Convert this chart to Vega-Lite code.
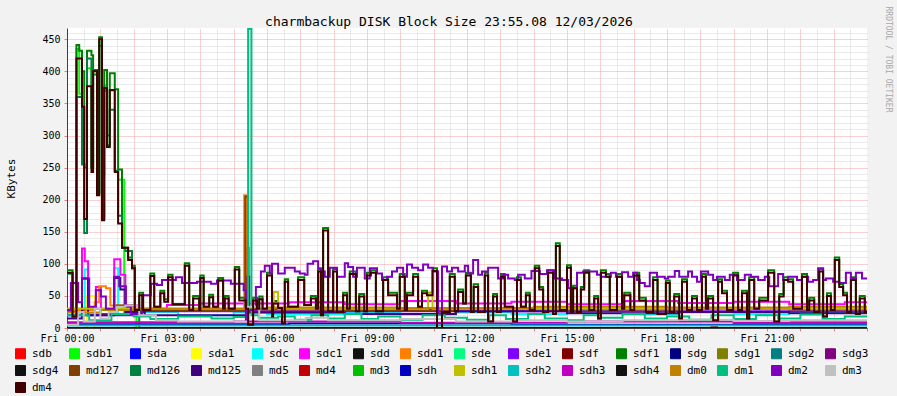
{
"$schema": "https://vega.github.io/schema/vega-lite/v6.json",
"width": 800,
"height": 300,
"autosize": {"type": "none"},
"padding": {"left": 67, "top": 28, "right": 30, "bottom": 68},
"background": "#f2f2f2",
"config": {"view": {"fill": "#ffffff", "stroke": null}, "font": "DejaVu Sans Mono"},
"title": {"text": "charmbackup DISK Block Size 23:55.08 12/03/2026", "font": "DejaVu Sans Mono", "fontSize": 13, "fontWeight": "normal", "color": "#000000", "anchor": "middle", "frame": "group", "dx": -18, "dy": 40, "offset": 4, "baseline": "bottom"},
"data": {"values": [
{"s":"sdb","t":0,"v":0},{"s":"sdb","t":1160,"v":3},{"s":"sdb","t":1170,"v":0},{"s":"sdb","t":1440,"v":0},
{"s":"sdb1","t":0,"v":85},{"s":"sdb1","t":10,"v":18},{"s":"sdb1","t":17,"v":435},{"s":"sdb1","t":22,"v":365},{"s":"sdb1","t":27,"v":340},{"s":"sdb1","t":31,"v":255},{"s":"sdb1","t":36,"v":405},{"s":"sdb1","t":44,"v":250},{"s":"sdb1","t":47,"v":400},{"s":"sdb1","t":54,"v":210},{"s":"sdb1","t":58,"v":445},{"s":"sdb1","t":63,"v":175},{"s":"sdb1","t":67,"v":378},{"s":"sdb1","t":72,"v":285},{"s":"sdb1","t":77,"v":370},{"s":"sdb1","t":86,"v":245},{"s":"sdb1","t":92,"v":231},{"s":"sdb1","t":103,"v":25},{"s":"sdb1","t":125,"v":0},{"s":"sdb1","t":1440,"v":0},
{"s":"sda","t":0,"v":0},{"s":"sda","t":1440,"v":0},
{"s":"sda1","t":0,"v":0},{"s":"sda1","t":36,"v":50},{"s":"sda1","t":50,"v":0},{"s":"sda1","t":1440,"v":0},
{"s":"sdc","t":0,"v":20},{"s":"sdc","t":32,"v":91},{"s":"sdc","t":38,"v":22},{"s":"sdc","t":85,"v":93},{"s":"sdc","t":92,"v":22},{"s":"sdc","t":140,"v":25},{"s":"sdc","t":200,"v":20},{"s":"sdc","t":300,"v":24},{"s":"sdc","t":360,"v":22},{"s":"sdc","t":500,"v":25},{"s":"sdc","t":600,"v":21},{"s":"sdc","t":700,"v":24},{"s":"sdc","t":800,"v":22},{"s":"sdc","t":900,"v":26},{"s":"sdc","t":1000,"v":21},{"s":"sdc","t":1100,"v":24},{"s":"sdc","t":1200,"v":22},{"s":"sdc","t":1300,"v":25},{"s":"sdc","t":1440,"v":23},
{"s":"sdc1","t":0,"v":30},{"s":"sdc1","t":27,"v":124},{"s":"sdc1","t":32,"v":104},{"s":"sdc1","t":38,"v":30},{"s":"sdc1","t":52,"v":64},{"s":"sdc1","t":61,"v":30},{"s":"sdc1","t":85,"v":107},{"s":"sdc1","t":96,"v":83},{"s":"sdc1","t":105,"v":35},{"s":"sdc1","t":130,"v":30},{"s":"sdc1","t":180,"v":36},{"s":"sdc1","t":240,"v":38},{"s":"sdc1","t":323,"v":125},{"s":"sdc1","t":327,"v":38},{"s":"sdc1","t":400,"v":40},{"s":"sdc1","t":500,"v":37},{"s":"sdc1","t":600,"v":42},{"s":"sdc1","t":700,"v":38},{"s":"sdc1","t":800,"v":41},{"s":"sdc1","t":900,"v":37},{"s":"sdc1","t":1000,"v":42},{"s":"sdc1","t":1100,"v":39},{"s":"sdc1","t":1200,"v":41},{"s":"sdc1","t":1300,"v":37},{"s":"sdc1","t":1400,"v":40},{"s":"sdc1","t":1440,"v":40},
{"s":"sdd","t":0,"v":0},{"s":"sdd","t":1440,"v":0},
{"s":"sdd1","t":0,"v":28},{"s":"sdd1","t":50,"v":40},{"s":"sdd1","t":58,"v":65},{"s":"sdd1","t":70,"v":62},{"s":"sdd1","t":78,"v":35},{"s":"sdd1","t":100,"v":30},{"s":"sdd1","t":319,"v":207},{"s":"sdd1","t":322,"v":30},{"s":"sdd1","t":1440,"v":30},
{"s":"sde","t":0,"v":0},{"s":"sde","t":1440,"v":0},
{"s":"sde1","t":0,"v":20},{"s":"sde1","t":120,"v":26},{"s":"sde1","t":1440,"v":26},
{"s":"sdf","t":0,"v":0},{"s":"sdf","t":1440,"v":0},
{"s":"sdf1","t":0,"v":90},{"s":"sdf1","t":10,"v":20},{"s":"sdf1","t":17,"v":441},{"s":"sdf1","t":22,"v":432},{"s":"sdf1","t":27,"v":400},{"s":"sdf1","t":31,"v":250},{"s":"sdf1","t":36,"v":432},{"s":"sdf1","t":44,"v":425},{"s":"sdf1","t":47,"v":402},{"s":"sdf1","t":54,"v":210},{"s":"sdf1","t":58,"v":453},{"s":"sdf1","t":63,"v":240},{"s":"sdf1","t":67,"v":402},{"s":"sdf1","t":72,"v":300},{"s":"sdf1","t":77,"v":397},{"s":"sdf1","t":86,"v":372},{"s":"sdf1","t":92,"v":247},{"s":"sdf1","t":99,"v":125},{"s":"sdf1","t":110,"v":110},{"s":"sdf1","t":117,"v":97},{"s":"sdf1","t":122,"v":28},{"s":"sdf1","t":130,"v":55},{"s":"sdf1","t":137,"v":28},{"s":"sdf1","t":150,"v":85},{"s":"sdf1","t":157,"v":33},{"s":"sdf1","t":168,"v":58},{"s":"sdf1","t":175,"v":45},{"s":"sdf1","t":182,"v":83},{"s":"sdf1","t":190,"v":37},{"s":"sdf1","t":212,"v":101},{"s":"sdf1","t":220,"v":28},{"s":"sdf1","t":227,"v":50},{"s":"sdf1","t":238,"v":28},{"s":"sdf1","t":240,"v":82},{"s":"sdf1","t":246,"v":33},{"s":"sdf1","t":256,"v":52},{"s":"sdf1","t":263,"v":33},{"s":"sdf1","t":272,"v":78},{"s":"sdf1","t":281,"v":30},{"s":"sdf1","t":284,"v":50},{"s":"sdf1","t":291,"v":30},{"s":"sdf1","t":302,"v":95},{"s":"sdf1","t":310,"v":47},{"s":"sdf1","t":322,"v":30},{"s":"sdf1","t":326,"v":5},{"s":"sdf1","t":335,"v":47},{"s":"sdf1","t":342,"v":30},{"s":"sdf1","t":346,"v":49},{"s":"sdf1","t":352,"v":30},{"s":"sdf1","t":360,"v":86},{"s":"sdf1","t":369,"v":18},{"s":"sdf1","t":371,"v":42},{"s":"sdf1","t":380,"v":31},{"s":"sdf1","t":387,"v":7},{"s":"sdf1","t":392,"v":76},{"s":"sdf1","t":398,"v":33},{"s":"sdf1","t":416,"v":79},{"s":"sdf1","t":427,"v":36},{"s":"sdf1","t":439,"v":50},{"s":"sdf1","t":448,"v":30},{"s":"sdf1","t":452,"v":92},{"s":"sdf1","t":457,"v":20},{"s":"sdf1","t":461,"v":156},{"s":"sdf1","t":470,"v":26},{"s":"sdf1","t":479,"v":92},{"s":"sdf1","t":486,"v":25},{"s":"sdf1","t":497,"v":55},{"s":"sdf1","t":504,"v":30},{"s":"sdf1","t":509,"v":88},{"s":"sdf1","t":520,"v":26},{"s":"sdf1","t":526,"v":53},{"s":"sdf1","t":535,"v":26},{"s":"sdf1","t":540,"v":86},{"s":"sdf1","t":547,"v":90},{"s":"sdf1","t":556,"v":26},{"s":"sdf1","t":569,"v":79},{"s":"sdf1","t":578,"v":55},{"s":"sdf1","t":594,"v":30},{"s":"sdf1","t":599,"v":84},{"s":"sdf1","t":608,"v":28},{"s":"sdf1","t":612,"v":55},{"s":"sdf1","t":623,"v":84},{"s":"sdf1","t":632,"v":33},{"s":"sdf1","t":639,"v":58},{"s":"sdf1","t":648,"v":55},{"s":"sdf1","t":658,"v":93},{"s":"sdf1","t":666,"v":0},{"s":"sdf1","t":675,"v":25},{"s":"sdf1","t":689,"v":84},{"s":"sdf1","t":698,"v":26},{"s":"sdf1","t":704,"v":60},{"s":"sdf1","t":713,"v":38},{"s":"sdf1","t":718,"v":86},{"s":"sdf1","t":727,"v":25},{"s":"sdf1","t":732,"v":68},{"s":"sdf1","t":740,"v":25},{"s":"sdf1","t":752,"v":86},{"s":"sdf1","t":758,"v":10},{"s":"sdf1","t":767,"v":53},{"s":"sdf1","t":774,"v":25},{"s":"sdf1","t":781,"v":84},{"s":"sdf1","t":788,"v":33},{"s":"sdf1","t":803,"v":10},{"s":"sdf1","t":810,"v":79},{"s":"sdf1","t":817,"v":33},{"s":"sdf1","t":826,"v":55},{"s":"sdf1","t":833,"v":28},{"s":"sdf1","t":842,"v":97},{"s":"sdf1","t":850,"v":64},{"s":"sdf1","t":857,"v":25},{"s":"sdf1","t":866,"v":90},{"s":"sdf1","t":875,"v":22},{"s":"sdf1","t":880,"v":132},{"s":"sdf1","t":887,"v":28},{"s":"sdf1","t":900,"v":98},{"s":"sdf1","t":907,"v":25},{"s":"sdf1","t":911,"v":66},{"s":"sdf1","t":918,"v":25},{"s":"sdf1","t":925,"v":64},{"s":"sdf1","t":931,"v":90},{"s":"sdf1","t":940,"v":28},{"s":"sdf1","t":949,"v":50},{"s":"sdf1","t":956,"v":15},{"s":"sdf1","t":961,"v":90},{"s":"sdf1","t":970,"v":84},{"s":"sdf1","t":977,"v":28},{"s":"sdf1","t":990,"v":84},{"s":"sdf1","t":999,"v":30},{"s":"sdf1","t":1003,"v":55},{"s":"sdf1","t":1014,"v":28},{"s":"sdf1","t":1021,"v":86},{"s":"sdf1","t":1030,"v":47},{"s":"sdf1","t":1042,"v":25},{"s":"sdf1","t":1055,"v":79},{"s":"sdf1","t":1063,"v":22},{"s":"sdf1","t":1078,"v":74},{"s":"sdf1","t":1085,"v":25},{"s":"sdf1","t":1093,"v":53},{"s":"sdf1","t":1102,"v":15},{"s":"sdf1","t":1107,"v":76},{"s":"sdf1","t":1116,"v":28},{"s":"sdf1","t":1125,"v":50},{"s":"sdf1","t":1134,"v":28},{"s":"sdf1","t":1143,"v":84},{"s":"sdf1","t":1150,"v":30},{"s":"sdf1","t":1154,"v":50},{"s":"sdf1","t":1163,"v":12},{"s":"sdf1","t":1172,"v":76},{"s":"sdf1","t":1179,"v":58},{"s":"sdf1","t":1188,"v":28},{"s":"sdf1","t":1199,"v":86},{"s":"sdf1","t":1208,"v":28},{"s":"sdf1","t":1215,"v":58},{"s":"sdf1","t":1224,"v":15},{"s":"sdf1","t":1228,"v":79},{"s":"sdf1","t":1237,"v":30},{"s":"sdf1","t":1246,"v":47},{"s":"sdf1","t":1262,"v":90},{"s":"sdf1","t":1273,"v":10},{"s":"sdf1","t":1282,"v":53},{"s":"sdf1","t":1290,"v":79},{"s":"sdf1","t":1298,"v":76},{"s":"sdf1","t":1307,"v":30},{"s":"sdf1","t":1323,"v":84},{"s":"sdf1","t":1332,"v":28},{"s":"sdf1","t":1336,"v":47},{"s":"sdf1","t":1345,"v":25},{"s":"sdf1","t":1354,"v":92},{"s":"sdf1","t":1361,"v":18},{"s":"sdf1","t":1368,"v":54},{"s":"sdf1","t":1375,"v":28},{"s":"sdf1","t":1382,"v":110},{"s":"sdf1","t":1390,"v":68},{"s":"sdf1","t":1397,"v":55},{"s":"sdf1","t":1404,"v":25},{"s":"sdf1","t":1411,"v":79},{"s":"sdf1","t":1420,"v":22},{"s":"sdf1","t":1427,"v":50},{"s":"sdf1","t":1436,"v":25},{"s":"sdf1","t":1440,"v":25},
{"s":"sdg","t":0,"v":0},{"s":"sdg","t":1440,"v":0},
{"s":"sdg1","t":0,"v":0},{"s":"sdg1","t":1440,"v":0},
{"s":"sdg2","t":0,"v":0},{"s":"sdg2","t":1440,"v":0},
{"s":"sdg3","t":0,"v":0},{"s":"sdg3","t":1440,"v":0},
{"s":"sdg4","t":0,"v":0},{"s":"sdg4","t":1440,"v":0},
{"s":"md127","t":0,"v":25},{"s":"md127","t":30,"v":30},{"s":"md127","t":60,"v":22},{"s":"md127","t":90,"v":35},{"s":"md127","t":120,"v":28},{"s":"md127","t":200,"v":27},{"s":"md127","t":321,"v":205},{"s":"md127","t":326,"v":29},{"s":"md127","t":500,"v":28},{"s":"md127","t":700,"v":30},{"s":"md127","t":900,"v":29},{"s":"md127","t":1100,"v":30},{"s":"md127","t":1300,"v":29},{"s":"md127","t":1440,"v":29},
{"s":"md126","t":0,"v":85},{"s":"md126","t":10,"v":18},{"s":"md126","t":17,"v":360},{"s":"md126","t":27,"v":255},{"s":"md126","t":31,"v":148},{"s":"md126","t":36,"v":420},{"s":"md126","t":44,"v":250},{"s":"md126","t":47,"v":395},{"s":"md126","t":54,"v":210},{"s":"md126","t":58,"v":440},{"s":"md126","t":63,"v":170},{"s":"md126","t":67,"v":370},{"s":"md126","t":72,"v":285},{"s":"md126","t":77,"v":340},{"s":"md126","t":86,"v":245},{"s":"md126","t":92,"v":175},{"s":"md126","t":99,"v":125},{"s":"md126","t":105,"v":120},{"s":"md126","t":117,"v":93},{"s":"md126","t":122,"v":28},{"s":"md126","t":130,"v":0},{"s":"md126","t":1440,"v":0},
{"s":"md125","t":0,"v":15},{"s":"md125","t":27,"v":77},{"s":"md125","t":38,"v":20},{"s":"md125","t":85,"v":78},{"s":"md125","t":96,"v":60},{"s":"md125","t":105,"v":25},{"s":"md125","t":140,"v":20},{"s":"md125","t":325,"v":80},{"s":"md125","t":328,"v":24},{"s":"md125","t":500,"v":22},{"s":"md125","t":700,"v":26},{"s":"md125","t":900,"v":23},{"s":"md125","t":1100,"v":25},{"s":"md125","t":1300,"v":23},{"s":"md125","t":1440,"v":24},
{"s":"md5","t":0,"v":0},{"s":"md5","t":1440,"v":0},
{"s":"md4","t":0,"v":0},{"s":"md4","t":1440,"v":0},
{"s":"md3","t":0,"v":0},{"s":"md3","t":1440,"v":0},
{"s":"sdh","t":0,"v":6},{"s":"sdh","t":400,"v":7},{"s":"sdh","t":800,"v":5},{"s":"sdh","t":1200,"v":6},{"s":"sdh","t":1440,"v":6},
{"s":"sdh1","t":0,"v":30},{"s":"sdh1","t":372,"v":56},{"s":"sdh1","t":380,"v":30},{"s":"sdh1","t":650,"v":54},{"s":"sdh1","t":658,"v":30},{"s":"sdh1","t":1440,"v":30},
{"s":"sdh2","t":0,"v":4},{"s":"sdh2","t":1440,"v":4},
{"s":"sdh3","t":0,"v":9},{"s":"sdh3","t":300,"v":10},{"s":"sdh3","t":600,"v":8},{"s":"sdh3","t":900,"v":10},{"s":"sdh3","t":1200,"v":9},{"s":"sdh3","t":1440,"v":9},
{"s":"sdh4","t":0,"v":0},{"s":"sdh4","t":1440,"v":0},
{"s":"dm0","t":0,"v":24},{"s":"dm0","t":60,"v":28},{"s":"dm0","t":120,"v":30},{"s":"dm0","t":360,"v":32},{"s":"dm0","t":600,"v":31},{"s":"dm0","t":840,"v":33},{"s":"dm0","t":1080,"v":32},{"s":"dm0","t":1300,"v":33},{"s":"dm0","t":1440,"v":33},
{"s":"dm1","t":0,"v":20},{"s":"dm1","t":40,"v":12},{"s":"dm1","t":80,"v":22},{"s":"dm1","t":120,"v":18},{"s":"dm1","t":150,"v":14},{"s":"dm1","t":200,"v":18},{"s":"dm1","t":260,"v":15},{"s":"dm1","t":300,"v":17},{"s":"dm1","t":326,"v":466},{"s":"dm1","t":332,"v":20},{"s":"dm1","t":345,"v":16},{"s":"dm1","t":380,"v":18},{"s":"dm1","t":410,"v":13},{"s":"dm1","t":440,"v":20},{"s":"dm1","t":470,"v":15},{"s":"dm1","t":500,"v":22},{"s":"dm1","t":530,"v":14},{"s":"dm1","t":560,"v":18},{"s":"dm1","t":600,"v":13},{"s":"dm1","t":640,"v":20},{"s":"dm1","t":680,"v":16},{"s":"dm1","t":720,"v":13},{"s":"dm1","t":760,"v":20},{"s":"dm1","t":790,"v":14},{"s":"dm1","t":830,"v":22},{"s":"dm1","t":860,"v":15},{"s":"dm1","t":900,"v":12},{"s":"dm1","t":930,"v":20},{"s":"dm1","t":960,"v":16},{"s":"dm1","t":1000,"v":22},{"s":"dm1","t":1040,"v":15},{"s":"dm1","t":1080,"v":18},{"s":"dm1","t":1120,"v":13},{"s":"dm1","t":1160,"v":20},{"s":"dm1","t":1200,"v":14},{"s":"dm1","t":1240,"v":20},{"s":"dm1","t":1280,"v":15},{"s":"dm1","t":1320,"v":21},{"s":"dm1","t":1360,"v":14},{"s":"dm1","t":1400,"v":18},{"s":"dm1","t":1440,"v":18},
{"s":"dm2","t":0,"v":28},{"s":"dm2","t":7,"v":70},{"s":"dm2","t":20,"v":40},{"s":"dm2","t":27,"v":77},{"s":"dm2","t":40,"v":33},{"s":"dm2","t":52,"v":59},{"s":"dm2","t":61,"v":49},{"s":"dm2","t":70,"v":30},{"s":"dm2","t":85,"v":80},{"s":"dm2","t":94,"v":65},{"s":"dm2","t":106,"v":33},{"s":"dm2","t":115,"v":22},{"s":"dm2","t":135,"v":51},{"s":"dm2","t":151,"v":69},{"s":"dm2","t":162,"v":67},{"s":"dm2","t":171,"v":75},{"s":"dm2","t":196,"v":79},{"s":"dm2","t":207,"v":70},{"s":"dm2","t":234,"v":72},{"s":"dm2","t":259,"v":69},{"s":"dm2","t":270,"v":74},{"s":"dm2","t":295,"v":69},{"s":"dm2","t":318,"v":59},{"s":"dm2","t":322,"v":12},{"s":"dm2","t":326,"v":28},{"s":"dm2","t":340,"v":64},{"s":"dm2","t":349,"v":88},{"s":"dm2","t":356,"v":97},{"s":"dm2","t":365,"v":85},{"s":"dm2","t":369,"v":100},{"s":"dm2","t":380,"v":85},{"s":"dm2","t":392,"v":94},{"s":"dm2","t":410,"v":88},{"s":"dm2","t":419,"v":85},{"s":"dm2","t":428,"v":83},{"s":"dm2","t":433,"v":100},{"s":"dm2","t":443,"v":104},{"s":"dm2","t":452,"v":93},{"s":"dm2","t":457,"v":88},{"s":"dm2","t":464,"v":80},{"s":"dm2","t":473,"v":94},{"s":"dm2","t":486,"v":80},{"s":"dm2","t":500,"v":101},{"s":"dm2","t":506,"v":95},{"s":"dm2","t":515,"v":80},{"s":"dm2","t":522,"v":94},{"s":"dm2","t":536,"v":77},{"s":"dm2","t":545,"v":93},{"s":"dm2","t":558,"v":85},{"s":"dm2","t":567,"v":75},{"s":"dm2","t":576,"v":80},{"s":"dm2","t":585,"v":88},{"s":"dm2","t":594,"v":94},{"s":"dm2","t":605,"v":80},{"s":"dm2","t":612,"v":99},{"s":"dm2","t":621,"v":94},{"s":"dm2","t":632,"v":90},{"s":"dm2","t":641,"v":99},{"s":"dm2","t":650,"v":94},{"s":"dm2","t":659,"v":88},{"s":"dm2","t":668,"v":23},{"s":"dm2","t":675,"v":96},{"s":"dm2","t":684,"v":88},{"s":"dm2","t":693,"v":94},{"s":"dm2","t":704,"v":88},{"s":"dm2","t":716,"v":97},{"s":"dm2","t":722,"v":85},{"s":"dm2","t":731,"v":106},{"s":"dm2","t":740,"v":83},{"s":"dm2","t":747,"v":88},{"s":"dm2","t":758,"v":94},{"s":"dm2","t":776,"v":77},{"s":"dm2","t":785,"v":83},{"s":"dm2","t":794,"v":77},{"s":"dm2","t":806,"v":75},{"s":"dm2","t":812,"v":83},{"s":"dm2","t":824,"v":77},{"s":"dm2","t":836,"v":89},{"s":"dm2","t":851,"v":84},{"s":"dm2","t":864,"v":90},{"s":"dm2","t":878,"v":77},{"s":"dm2","t":891,"v":75},{"s":"dm2","t":902,"v":62},{"s":"dm2","t":918,"v":86},{"s":"dm2","t":929,"v":88},{"s":"dm2","t":954,"v":83},{"s":"dm2","t":961,"v":80},{"s":"dm2","t":979,"v":86},{"s":"dm2","t":988,"v":80},{"s":"dm2","t":999,"v":87},{"s":"dm2","t":1010,"v":80},{"s":"dm2","t":1019,"v":86},{"s":"dm2","t":1026,"v":75},{"s":"dm2","t":1031,"v":70},{"s":"dm2","t":1040,"v":65},{"s":"dm2","t":1049,"v":86},{"s":"dm2","t":1062,"v":80},{"s":"dm2","t":1076,"v":77},{"s":"dm2","t":1082,"v":80},{"s":"dm2","t":1094,"v":89},{"s":"dm2","t":1102,"v":80},{"s":"dm2","t":1118,"v":88},{"s":"dm2","t":1125,"v":80},{"s":"dm2","t":1134,"v":72},{"s":"dm2","t":1141,"v":88},{"s":"dm2","t":1154,"v":83},{"s":"dm2","t":1163,"v":75},{"s":"dm2","t":1170,"v":80},{"s":"dm2","t":1184,"v":75},{"s":"dm2","t":1193,"v":83},{"s":"dm2","t":1206,"v":75},{"s":"dm2","t":1220,"v":83},{"s":"dm2","t":1231,"v":80},{"s":"dm2","t":1244,"v":75},{"s":"dm2","t":1256,"v":80},{"s":"dm2","t":1264,"v":65},{"s":"dm2","t":1280,"v":84},{"s":"dm2","t":1289,"v":75},{"s":"dm2","t":1298,"v":80},{"s":"dm2","t":1314,"v":75},{"s":"dm2","t":1323,"v":80},{"s":"dm2","t":1334,"v":72},{"s":"dm2","t":1343,"v":75},{"s":"dm2","t":1352,"v":93},{"s":"dm2","t":1361,"v":75},{"s":"dm2","t":1366,"v":77},{"s":"dm2","t":1379,"v":72},{"s":"dm2","t":1390,"v":70},{"s":"dm2","t":1402,"v":86},{"s":"dm2","t":1411,"v":77},{"s":"dm2","t":1420,"v":86},{"s":"dm2","t":1431,"v":77},{"s":"dm2","t":1440,"v":77},
{"s":"dm3","t":0,"v":5},{"s":"dm3","t":20,"v":25},{"s":"dm3","t":30,"v":10},{"s":"dm3","t":50,"v":30},{"s":"dm3","t":60,"v":15},{"s":"dm3","t":75,"v":25},{"s":"dm3","t":90,"v":33},{"s":"dm3","t":105,"v":35},{"s":"dm3","t":130,"v":20},{"s":"dm3","t":160,"v":12},{"s":"dm3","t":200,"v":10},{"s":"dm3","t":326,"v":33},{"s":"dm3","t":346,"v":12},{"s":"dm3","t":430,"v":16},{"s":"dm3","t":470,"v":12},{"s":"dm3","t":600,"v":14},{"s":"dm3","t":700,"v":10},{"s":"dm3","t":800,"v":12},{"s":"dm3","t":900,"v":10},{"s":"dm3","t":1000,"v":12},{"s":"dm3","t":1100,"v":13},{"s":"dm3","t":1200,"v":11},{"s":"dm3","t":1300,"v":12},{"s":"dm3","t":1440,"v":12},
{"s":"dm4","t":0,"v":86},{"s":"dm4","t":10,"v":18},{"s":"dm4","t":17,"v":420},{"s":"dm4","t":27,"v":345},{"s":"dm4","t":31,"v":170},{"s":"dm4","t":36,"v":377},{"s":"dm4","t":44,"v":243},{"s":"dm4","t":47,"v":400},{"s":"dm4","t":54,"v":207},{"s":"dm4","t":58,"v":450},{"s":"dm4","t":63,"v":168},{"s":"dm4","t":67,"v":374},{"s":"dm4","t":72,"v":282},{"s":"dm4","t":77,"v":371},{"s":"dm4","t":86,"v":243},{"s":"dm4","t":92,"v":163},{"s":"dm4","t":99,"v":125},{"s":"dm4","t":110,"v":106},{"s":"dm4","t":117,"v":93},{"s":"dm4","t":122,"v":28},{"s":"dm4","t":130,"v":51},{"s":"dm4","t":137,"v":28},{"s":"dm4","t":150,"v":81},{"s":"dm4","t":157,"v":33},{"s":"dm4","t":168,"v":54},{"s":"dm4","t":175,"v":41},{"s":"dm4","t":182,"v":79},{"s":"dm4","t":190,"v":37},{"s":"dm4","t":212,"v":97},{"s":"dm4","t":220,"v":28},{"s":"dm4","t":227,"v":46},{"s":"dm4","t":238,"v":28},{"s":"dm4","t":240,"v":78},{"s":"dm4","t":246,"v":33},{"s":"dm4","t":256,"v":48},{"s":"dm4","t":263,"v":33},{"s":"dm4","t":272,"v":74},{"s":"dm4","t":281,"v":30},{"s":"dm4","t":284,"v":46},{"s":"dm4","t":291,"v":30},{"s":"dm4","t":302,"v":91},{"s":"dm4","t":310,"v":43},{"s":"dm4","t":322,"v":30},{"s":"dm4","t":326,"v":5},{"s":"dm4","t":335,"v":43},{"s":"dm4","t":342,"v":30},{"s":"dm4","t":346,"v":45},{"s":"dm4","t":352,"v":30},{"s":"dm4","t":360,"v":82},{"s":"dm4","t":369,"v":18},{"s":"dm4","t":371,"v":38},{"s":"dm4","t":380,"v":31},{"s":"dm4","t":387,"v":7},{"s":"dm4","t":392,"v":72},{"s":"dm4","t":398,"v":33},{"s":"dm4","t":416,"v":75},{"s":"dm4","t":427,"v":36},{"s":"dm4","t":439,"v":46},{"s":"dm4","t":448,"v":30},{"s":"dm4","t":452,"v":88},{"s":"dm4","t":457,"v":20},{"s":"dm4","t":461,"v":152},{"s":"dm4","t":470,"v":26},{"s":"dm4","t":479,"v":88},{"s":"dm4","t":486,"v":25},{"s":"dm4","t":497,"v":51},{"s":"dm4","t":504,"v":30},{"s":"dm4","t":509,"v":84},{"s":"dm4","t":520,"v":26},{"s":"dm4","t":526,"v":49},{"s":"dm4","t":535,"v":26},{"s":"dm4","t":540,"v":82},{"s":"dm4","t":547,"v":86},{"s":"dm4","t":556,"v":26},{"s":"dm4","t":569,"v":75},{"s":"dm4","t":578,"v":51},{"s":"dm4","t":594,"v":30},{"s":"dm4","t":599,"v":80},{"s":"dm4","t":608,"v":28},{"s":"dm4","t":612,"v":51},{"s":"dm4","t":623,"v":80},{"s":"dm4","t":632,"v":33},{"s":"dm4","t":639,"v":54},{"s":"dm4","t":648,"v":51},{"s":"dm4","t":658,"v":89},{"s":"dm4","t":666,"v":0},{"s":"dm4","t":675,"v":25},{"s":"dm4","t":689,"v":80},{"s":"dm4","t":698,"v":26},{"s":"dm4","t":704,"v":56},{"s":"dm4","t":713,"v":38},{"s":"dm4","t":718,"v":82},{"s":"dm4","t":727,"v":25},{"s":"dm4","t":732,"v":64},{"s":"dm4","t":740,"v":25},{"s":"dm4","t":752,"v":82},{"s":"dm4","t":758,"v":10},{"s":"dm4","t":767,"v":49},{"s":"dm4","t":774,"v":25},{"s":"dm4","t":781,"v":80},{"s":"dm4","t":788,"v":33},{"s":"dm4","t":803,"v":10},{"s":"dm4","t":810,"v":75},{"s":"dm4","t":817,"v":33},{"s":"dm4","t":826,"v":51},{"s":"dm4","t":833,"v":28},{"s":"dm4","t":842,"v":93},{"s":"dm4","t":850,"v":60},{"s":"dm4","t":857,"v":25},{"s":"dm4","t":866,"v":86},{"s":"dm4","t":875,"v":22},{"s":"dm4","t":880,"v":128},{"s":"dm4","t":887,"v":28},{"s":"dm4","t":900,"v":94},{"s":"dm4","t":907,"v":25},{"s":"dm4","t":911,"v":62},{"s":"dm4","t":918,"v":25},{"s":"dm4","t":925,"v":60},{"s":"dm4","t":931,"v":86},{"s":"dm4","t":940,"v":28},{"s":"dm4","t":949,"v":46},{"s":"dm4","t":956,"v":15},{"s":"dm4","t":961,"v":86},{"s":"dm4","t":970,"v":80},{"s":"dm4","t":977,"v":28},{"s":"dm4","t":990,"v":80},{"s":"dm4","t":999,"v":30},{"s":"dm4","t":1003,"v":51},{"s":"dm4","t":1014,"v":28},{"s":"dm4","t":1021,"v":82},{"s":"dm4","t":1030,"v":43},{"s":"dm4","t":1042,"v":25},{"s":"dm4","t":1055,"v":75},{"s":"dm4","t":1063,"v":22},{"s":"dm4","t":1078,"v":70},{"s":"dm4","t":1085,"v":25},{"s":"dm4","t":1093,"v":49},{"s":"dm4","t":1102,"v":15},{"s":"dm4","t":1107,"v":72},{"s":"dm4","t":1116,"v":28},{"s":"dm4","t":1125,"v":46},{"s":"dm4","t":1134,"v":28},{"s":"dm4","t":1143,"v":80},{"s":"dm4","t":1150,"v":30},{"s":"dm4","t":1154,"v":46},{"s":"dm4","t":1163,"v":12},{"s":"dm4","t":1172,"v":72},{"s":"dm4","t":1179,"v":54},{"s":"dm4","t":1188,"v":28},{"s":"dm4","t":1199,"v":82},{"s":"dm4","t":1208,"v":28},{"s":"dm4","t":1215,"v":54},{"s":"dm4","t":1224,"v":15},{"s":"dm4","t":1228,"v":75},{"s":"dm4","t":1237,"v":30},{"s":"dm4","t":1246,"v":43},{"s":"dm4","t":1262,"v":86},{"s":"dm4","t":1273,"v":10},{"s":"dm4","t":1282,"v":49},{"s":"dm4","t":1290,"v":75},{"s":"dm4","t":1298,"v":72},{"s":"dm4","t":1307,"v":30},{"s":"dm4","t":1323,"v":80},{"s":"dm4","t":1332,"v":28},{"s":"dm4","t":1336,"v":43},{"s":"dm4","t":1345,"v":25},{"s":"dm4","t":1354,"v":88},{"s":"dm4","t":1361,"v":18},{"s":"dm4","t":1368,"v":50},{"s":"dm4","t":1375,"v":28},{"s":"dm4","t":1382,"v":106},{"s":"dm4","t":1390,"v":64},{"s":"dm4","t":1397,"v":51},{"s":"dm4","t":1404,"v":25},{"s":"dm4","t":1411,"v":75},{"s":"dm4","t":1420,"v":22},{"s":"dm4","t":1427,"v":46},{"s":"dm4","t":1436,"v":25},{"s":"dm4","t":1440,"v":25}
]},
"layer": [
{
"data": {"values": [{"g": 0}]},
"mark": {"type": "point", "opacity": 0},
"encoding": {
"x": {"datum": 0, "type": "quantitative", "scale": {"domain": [0, 1440], "nice": false, "zero": false}, "axis": {"orient": "top", "minExtent": 0, "maxExtent": 0, "offset": 0, "values": [30,90,150,210,270,330,390,450,510,570,630,690,750,810,870,930,990,1050,1110,1170,1230,1290,1350,1410], "grid": true, "gridColor": "#d4d4d4", "gridDash": [1, 1], "gridWidth": 1, "domain": false, "ticks": false, "labels": false, "title": null}},
"y": {"datum": 0, "type": "quantitative", "scale": {"domain": [0, 467.6], "nice": false, "zero": true}, "axis": {"orient": "right", "minExtent": 0, "values": [10,20,30,40,60,70,80,90,110,120,130,140,160,170,180,190,210,220,230,240,260,270,280,290,310,320,330,340,360,370,380,390,410,420,430,440,460], "grid": true, "gridColor": "#d4d4d4", "gridDash": [1, 1], "gridWidth": 1, "domain": false, "ticks": false, "labels": false, "title": null}}
}
},
{
"data": {"values": [{"g": 0}]},
"mark": {"type": "point", "opacity": 0},
"encoding": {
"x": {"datum": 0, "type": "quantitative", "scale": {"domain": [0, 1440], "nice": false, "zero": false}, "axis": {"orient": "top", "minExtent": 0, "maxExtent": 0, "offset": 0, "values": [60,120,180,240,300,360,420,480,540,600,660,720,780,840,900,960,1020,1080,1140,1200,1260,1320,1380], "grid": true, "gridColor": "#f0a0a0", "gridDash": [1, 1], "gridWidth": 1, "domain": false, "ticks": false, "labels": false, "title": null}},
"y": {"datum": 0, "type": "quantitative", "scale": {"domain": [0, 467.6], "nice": false, "zero": true}, "axis": {"orient": "right", "minExtent": 0, "values": [50,100,150,200,250,300,350,400,450], "grid": true, "gridColor": "#f0a0a0", "gridDash": [1, 1], "gridWidth": 1, "domain": false, "ticks": false, "labels": false, "title": "RRDTOOL / TOBI OETIKER", "titleFont": "DejaVu Sans Mono", "titleFontSize": 8, "titleFontWeight": "normal", "titleColor": "#a8a8a8", "titleAngle": 90, "titleX": 20, "titleY": 31, "titleAlign": "center", "titleBaseline": "middle"}}
}
},
{
"mark": {"type": "line", "interpolate": "step-after", "strokeWidth": 2, "clip": true},
"encoding": {
"x": {"field": "t", "type": "quantitative", "scale": {"domain": [0, 1440], "nice": false, "zero": false}, "axis": {"orient": "bottom", "values": [0,60,120,180,240,300,360,420,480,540,600,660,720,780,840,900,960,1020,1080,1140,1200,1260,1320,1380,1440], "labelExpr": "datum.value % 180 == 0 && datum.value < 1440 ? 'Fri ' + (datum.value < 600 ? '0' : '') + floor(datum.value / 60) + ':00' : ''", "grid": false, "domainColor": "#404040", "tickColor": "#e88080", "tickSize": 3, "labelFont": "DejaVu Sans Mono", "labelFontSize": 10, "labelColor": "#000000", "labelPadding": 2, "labelOverlap": false, "labelFlush": false, "title": null}},
"y": {"field": "v", "type": "quantitative", "scale": {"domain": [0, 467.6], "nice": false, "zero": true}, "axis": {"orient": "left", "values": [0,50,100,150,200,250,300,350,400,450], "format": "d", "grid": false, "domainColor": "#404040", "tickColor": "#e88080", "tickSize": 3, "labelFont": "DejaVu Sans Mono", "labelFontSize": 10, "labelColor": "#000000", "labelPadding": 4, "title": "KBytes", "titleFont": "DejaVu Sans Mono", "titleFontSize": 11, "titleFontWeight": "normal", "titleColor": "#000000", "titleAngle": -90, "titleX": -56, "titleY": 150, "titleAlign": "center", "titleBaseline": "middle"}},
"color": {"field": "s", "type": "nominal",
"scale": {"domain": ["sdb","sdb1","sda","sda1","sdc","sdc1","sdd","sdd1","sde","sde1","sdf","sdf1","sdg","sdg1","sdg2","sdg3","sdg4","md127","md126","md125","md5","md4","md3","sdh","sdh1","sdh2","sdh3","sdh4","dm0","dm1","dm2","dm3","dm4"],
"range": ["#ff0000","#00ff00","#0000ff","#ffff00","#00ffff","#ff00ff","#111111","#ff8000","#00ff80","#8000ff","#800000","#008000","#000080","#808000","#008080","#800080","#111111","#804000","#008040","#400080","#808080","#c00000","#00c000","#0000c0","#c0c000","#00c0c0","#c000c0","#111111","#c08000","#00c080","#8000c0","#c0c0c0","#400000"]},
"legend": {"orient": "none", "legendX": -52, "legendY": 320, "direction": "horizontal", "columns": 16, "symbolLimit": 0, "title": null, "padding": 0, "symbolType": "square", "symbolSize": 100, "symbolStrokeWidth": 1, "labelFont": "DejaVu Sans Mono", "labelFontSize": 11, "labelColor": "#000000", "labelOffset": 6, "columnPadding": 8, "rowPadding": 2,
"encode": {"symbols": {"update": {"fill": {"scale": "color", "field": "value"}, "stroke": {"value": "#000000"}, "strokeWidth": {"value": 1}, "opacity": {"value": 1}}}}}
}
}
}
],
"resolve": {"axis": {"x": "independent", "y": "independent"}}
}
